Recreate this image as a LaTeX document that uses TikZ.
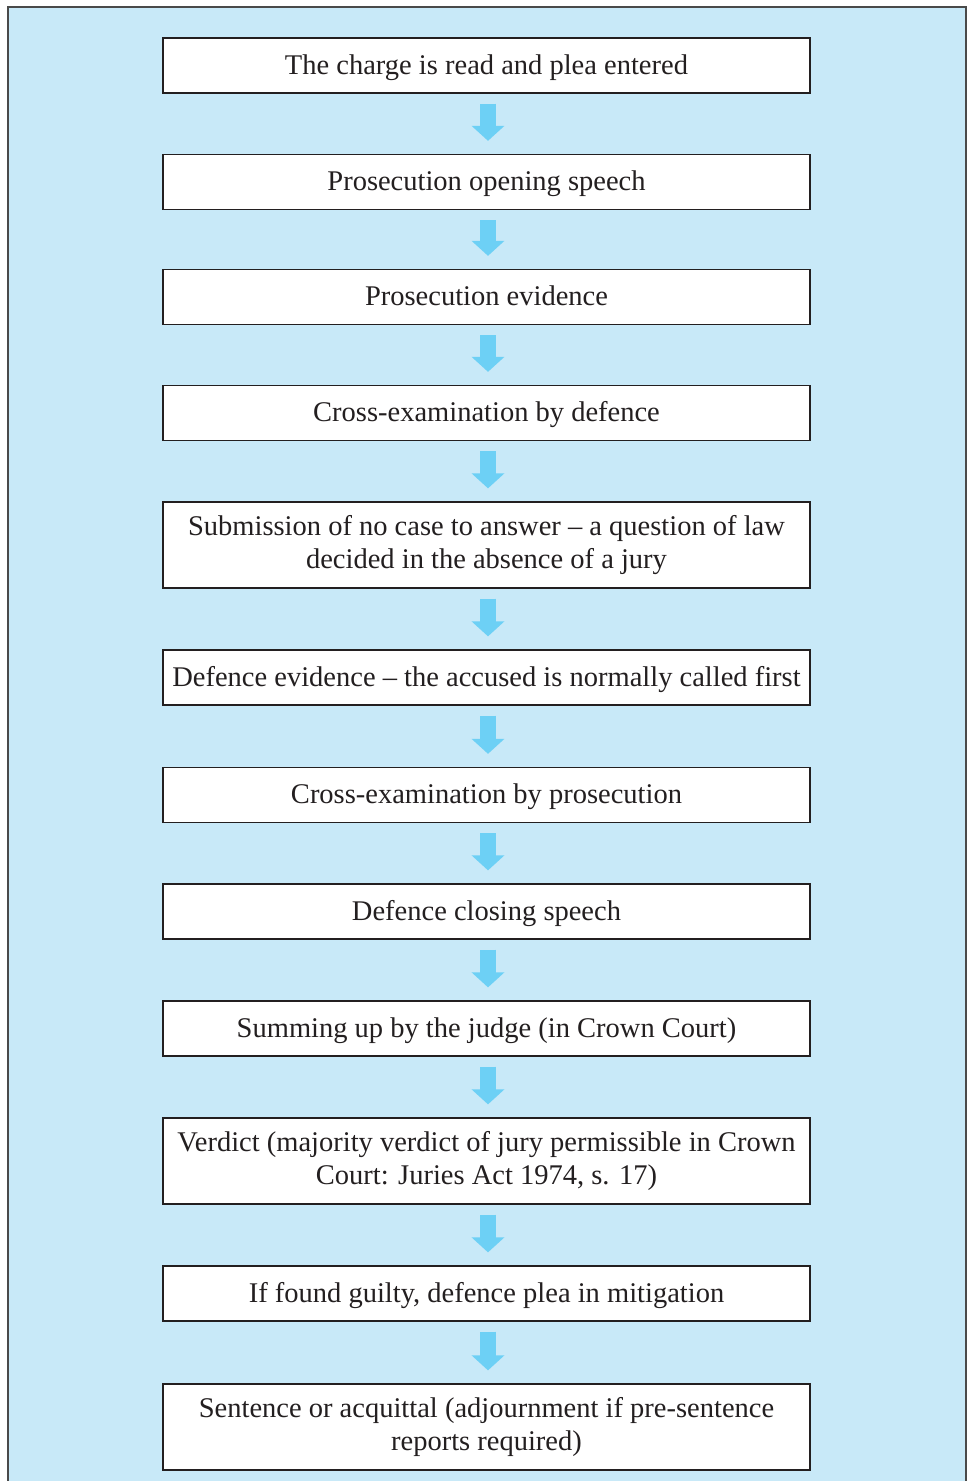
\documentclass[tikz,border=0pt]{standalone}
\usepackage{fontspec}
\setmainfont{Liberation Serif}
\usetikzlibrary{arrows.meta,positioning}
\definecolor{panelblue}{HTML}{C8E9F8}
\definecolor{arrowblue}{HTML}{6DD0F5}
\definecolor{framegray}{HTML}{4A4A4A}
\definecolor{inkgray}{HTML}{231F20}
% uniform line height so every box sets its baseline alike
\newcommand\linestrut{\rule[-7pt]{0pt}{31pt}}
\tikzset{
  stage/.style={draw=inkgray, line width=1.3pt, fill=white, text=inkgray,
    minimum width=647pt, align=center, inner sep=0pt,
    font=\fontsize{28.5}{33}\selectfont,
    execute at begin node=\linestrut, execute at end node=\linestrut},
  onerow/.style={stage, minimum height=55pt},
  tworow/.style={stage, minimum height=86pt},
  flow/.style={arrowblue, line width=16pt,
    -{Triangle[width=32pt,length=15pt]},
    shorten <=10pt, shorten >=13pt}
}
\begin{document}
\begin{tikzpicture}[x=1pt,y=-1pt]
  \useasboundingbox (0,0) rectangle (967,1481);
  % panel behind the flow chart
  \fill[panelblue] (8,7) rectangle (966,1481);
  \draw[framegray, line width=1.6pt] (8,1481) -- (8,7) -- (966,7) -- (966,1481);

  % stages of the trial
  \node[onerow] (s1)  at (486.5,65.5)   {The charge is read and plea entered};
  \node[onerow] (s2)  at (486.5,182)    {Prosecution opening speech};
  \node[onerow] (s3)  at (486.5,297)    {Prosecution evidence};
  \node[onerow] (s4)  at (486.5,413)    {Cross-examination by defence};
  \node[tworow] (s5)  at (486.5,545)    {Submission of no case to answer -- a question of law\\decided in the absence of a jury};
  \node[onerow] (s6)  at (486.5,677.5)  {Defence evidence -- the accused is normally called first};
  \node[onerow] (s7)  at (486.5,795)    {Cross-examination by prosecution};
  \node[onerow] (s8)  at (486.5,911.5)  {Defence closing speech};
  \node[onerow] (s9)  at (486.5,1028.5) {Summing up by the judge (in Crown Court)};
  \node[tworow] (s10) at (486.5,1161)   {Verdict (majority verdict of jury permissible in Crown\\Court: Juries Act 1974, s. 17)};
  \node[onerow] (s11) at (486.5,1293.5) {If found guilty, defence plea in mitigation};
  \node[tworow] (s12) at (486.5,1427)   {Sentence or acquittal (adjournment if pre-sentence\\reports required)};

  % arrows between stages
  \foreach \a/\b in {s1/s2,s2/s3,s3/s4,s4/s5,s5/s6,s6/s7,s7/s8,s8/s9,s9/s10,s10/s11,s11/s12}
    \draw[flow] ([xshift=1.5pt]\a.south) -- ([xshift=1.5pt]\b.north);
\end{tikzpicture}
\end{document}
